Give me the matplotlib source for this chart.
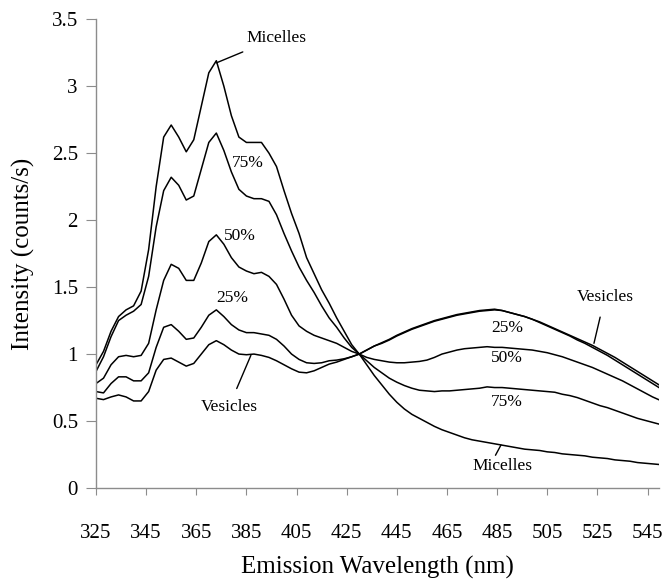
import numpy as np
import matplotlib
matplotlib.use("Agg")
import matplotlib.pyplot as plt

plt.rcParams['font.family'] = ['Liberation Serif', 'DejaVu Serif']

# Emission wavelengths (nm), sampled every 3 nm
wavelength = np.arange(325, 551, 3)

micelles = [0.92, 1.02, 1.17, 1.28, 1.33, 1.36, 1.47, 1.78, 2.25, 2.62,
            2.71, 2.62, 2.51, 2.60, 2.85, 3.10, 3.19, 3.00, 2.78, 2.62,
            2.58, 2.58, 2.58, 2.50, 2.40, 2.22, 2.05, 1.90, 1.72, 1.60,
            1.48, 1.38, 1.27, 1.17, 1.07, 1.00, 0.92, 0.84, 0.77, 0.70,
            0.64, 0.59, 0.55, 0.52, 0.49, 0.46, 0.435, 0.415, 0.395, 0.375,
            0.36, 0.35, 0.34, 0.33, 0.32, 0.31, 0.30, 0.29, 0.285, 0.28,
            0.27, 0.265, 0.255, 0.25, 0.245, 0.24, 0.23, 0.225, 0.22, 0.21,
            0.205, 0.20, 0.19, 0.185, 0.18, 0.175]

pct75 = [0.87, 0.98, 1.13, 1.25, 1.29, 1.32, 1.37, 1.58, 1.95, 2.22,
         2.32, 2.26, 2.15, 2.18, 2.38, 2.58, 2.65, 2.52, 2.36, 2.23,
         2.18, 2.16, 2.16, 2.14, 2.04, 1.90, 1.77, 1.65, 1.55, 1.46,
         1.36, 1.27, 1.20, 1.12, 1.05, 1.00, 0.95, 0.90, 0.86, 0.82,
         0.79, 0.765, 0.745, 0.73, 0.725, 0.72, 0.725, 0.725, 0.73, 0.735,
         0.74, 0.745, 0.755, 0.75, 0.75, 0.745, 0.74, 0.735, 0.73, 0.725,
         0.72, 0.715, 0.70, 0.69, 0.675, 0.655, 0.635, 0.615, 0.60, 0.58,
         0.56, 0.54, 0.52, 0.505, 0.49, 0.475]

pct50 = [0.78, 0.82, 0.92, 0.98, 0.99, 0.98, 0.99, 1.08, 1.33, 1.55,
         1.67, 1.64, 1.55, 1.55, 1.68, 1.84, 1.89, 1.82, 1.72, 1.65,
         1.62, 1.60, 1.61, 1.58, 1.52, 1.41, 1.29, 1.21, 1.17, 1.14,
         1.12, 1.10, 1.08, 1.05, 1.02, 1.00, 0.975, 0.96, 0.95, 0.94,
         0.935, 0.935, 0.94, 0.945, 0.955, 0.975, 1.00, 1.015, 1.03, 1.04,
         1.045, 1.05, 1.055, 1.05, 1.05, 1.045, 1.04, 1.035, 1.03, 1.02,
         1.01, 0.995, 0.98, 0.96, 0.94, 0.92, 0.90, 0.875, 0.85, 0.825,
         0.80, 0.77, 0.74, 0.71, 0.68, 0.655]

pct25 = [0.72, 0.71, 0.78, 0.83, 0.83, 0.80, 0.80, 0.86, 1.05, 1.20,
         1.22, 1.17, 1.11, 1.12, 1.20, 1.29, 1.33, 1.28, 1.22, 1.18,
         1.16, 1.16, 1.15, 1.14, 1.11, 1.06, 1.00, 0.96, 0.935, 0.93,
         0.935, 0.95, 0.955, 0.965, 0.98, 1.00, 1.03, 1.06, 1.08, 1.105,
         1.135, 1.16, 1.185, 1.205, 1.225, 1.245, 1.26, 1.275, 1.29, 1.30,
         1.31, 1.32, 1.325, 1.33, 1.325, 1.31, 1.295, 1.28, 1.26, 1.235,
         1.21, 1.185, 1.16, 1.135, 1.105, 1.08, 1.05, 1.02, 0.99, 0.955,
         0.92, 0.885, 0.85, 0.815, 0.78, 0.745]

vesicles = [0.67, 0.66, 0.68, 0.695, 0.68, 0.65, 0.65, 0.72, 0.88, 0.96,
            0.97, 0.94, 0.91, 0.93, 1.00, 1.07, 1.10, 1.07, 1.03, 1.00,
            0.995, 1.00, 0.99, 0.975, 0.95, 0.92, 0.89, 0.865, 0.86, 0.875,
            0.90, 0.925, 0.94, 0.96, 0.98, 1.00, 1.03, 1.06, 1.085, 1.11,
            1.14, 1.165, 1.19, 1.21, 1.23, 1.25, 1.265, 1.28, 1.295, 1.305,
            1.315, 1.325, 1.33, 1.335, 1.325, 1.31, 1.295, 1.28, 1.26, 1.24,
            1.215, 1.19, 1.165, 1.14, 1.115, 1.09, 1.065, 1.035, 1.005, 0.975,
            0.94, 0.905, 0.87, 0.835, 0.80, 0.765]

series = [micelles, pct75, pct50, pct25, vesicles]

x_ticks = list(range(325, 546, 20))
y_ticks = [0, 0.5, 1, 1.5, 2, 2.5, 3, 3.5]
y_ticklabels = ['0', '0.5', '1', '1.5', '2', '2.5', '3', '3.5']

fig = plt.figure(figsize=(6.62, 5.82), dpi=100)
ax = fig.add_axes([0.145, 0.1615, 0.8502, 0.8055])

for s in series:
    ax.plot(wavelength, s, color='black', lw=1.1, solid_joinstyle='round')

ax.set_xlim(325, 549.5)
ax.set_ylim(0, 3.5)
ax.set_xticks(x_ticks)
ax.set_xticklabels([str(t) for t in x_ticks], fontsize=15)
ax.set_yticks(y_ticks)
ax.set_yticklabels(y_ticklabels, fontsize=15)

for side in ['top', 'right']:
    ax.spines[side].set_visible(False)
for side in ['left', 'bottom']:
    ax.spines[side].set_color('#8c8c8c')
    ax.spines[side].set_linewidth(1.0)
ax.tick_params(axis='x', direction='out', length=5, color='#8c8c8c', pad=21)
ax.tick_params(axis='y', direction='out', length=7, color='#8c8c8c', pad=6)

ax.set_xlabel('Emission Wavelength (nm)', fontsize=18, labelpad=9)
ax.set_ylabel('Intensity (counts/s)', fontsize=18, labelpad=12)

lab = dict(fontsize=12.5, ha='center', va='center')
# curve labels on the left-hand band
ax.annotate('Micelles', xy=(372.5, 3.17), xytext=(397, 3.36),
            arrowprops=dict(arrowstyle='-', color='black', lw=1.0,
                            shrinkA=6, shrinkB=1), **lab)
ax.text(385.5, 2.43, '75%', **lab)
ax.text(382.5, 1.88, '50%', **lab)
ax.text(379.5, 1.416, '25%', **lab)
ax.annotate('Vesicles', xy=(387, 1.0), xytext=(378, 0.605),
            arrowprops=dict(arrowstyle='-', color='black', lw=1.0,
                            shrinkA=6, shrinkB=1), **lab)
# curve labels on the right-hand band
ax.annotate('Vesicles', xy=(523.5, 1.07), xytext=(528, 1.427),
            arrowprops=dict(arrowstyle='-', color='black', lw=1.0,
                            shrinkA=7, shrinkB=1), **lab)
ax.text(489, 1.192, '25%', **lab)
ax.text(489, 0.968, '50%', **lab)
ax.text(489, 0.644, '75%', **lab)
ax.annotate('Micelles', xy=(486.8, 0.33), xytext=(487.3, 0.164),
            arrowprops=dict(arrowstyle='-', color='black', lw=1.0,
                            relpos=(0.33, 0.85), shrinkA=0, shrinkB=1), **lab)

fig.savefig('out.png', dpi=100)
